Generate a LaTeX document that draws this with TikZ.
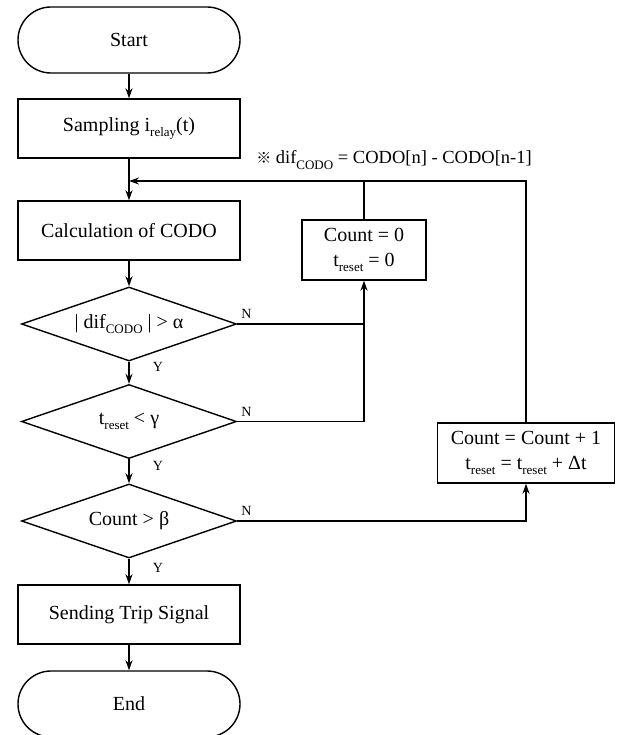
\documentclass[tikz,border=0pt]{standalone}
\usepackage{fontspec}
\setmainfont{Liberation Serif}
\newfontfamily\cjkfont{Noto Sans CJK JP}
\usetikzlibrary{shapes.geometric,arrows.meta}
\newcommand\lsub[1]{\raisebox{-0.28em}{\fontsize{13}{13}\selectfont #1}}
\tikzset{
  base/.style={draw, line width=1.4pt, inner sep=0pt, font=\fontsize{20}{25}\selectfont, align=center},
  procbox/.style={base, rectangle, minimum width=222pt, minimum height=59pt},
  termbox/.style={base, rectangle, rounded corners=33pt, minimum width=222pt, minimum height=66pt},
  decbox/.style={base, diamond, aspect=2.92, minimum width=215pt, minimum height=74pt},
  sidebox/.style={base, rectangle, minimum height=60pt},
  conn/.style={line width=1.4pt, -{Stealth[length=10pt,width=7pt]}},
  plain/.style={line width=1.4pt},
  yn/.style={font=\fontsize{14}{14}\selectfont, inner sep=0pt}
}
\begin{document}
\begin{tikzpicture}[x=1pt,y=-1pt]
\useasboundingbox (0,0) rectangle (619,735);
\node[termbox] (start) at (129,40) {Start};
\node[procbox] (samp) at (129,128.5) {Sampling i\lsub{relay}(t)};
\coordinate (j) at (129,181);
\node[procbox] (calc) at (129,230.5) {Calculation of CODO};
\node[decbox] (d1) at (129,324) {| dif\lsub{CODO} | > α};
\node[decbox] (d2) at (129,421.5) {t\lsub{reset} < γ};
\node[decbox] (d3) at (129,521) {Count > β};
\node[procbox] (send) at (129,614.5) {Sending Trip Signal};
\node[termbox] (end) at (129,704) {End};
\node[sidebox, minimum width=124pt] (cnt0) at (364,250) {Count = 0\\t\lsub{reset} = 0};
\node[sidebox, minimum width=177pt] (cnt1) at (526,453) {Count = Count + 1\\t\lsub{reset} = t\lsub{reset} + Δt};
\node[font=\fontsize{18.5}{18.5}\selectfont, inner sep=0pt] (note) at (394,160) {{\cjkfont\fontsize{15}{15}\selectfont ※} dif\lsub{CODO} = CODO[n] - CODO[n-1]};
% main flow
\draw[conn] (start) -- (samp);
\draw[plain] (samp.south) -- (j);
\draw[conn] (j) -- (calc.north);
\draw[conn] (calc) -- (d1);
\draw[conn] (d1) -- (d2);
\draw[conn] (d2) -- (d3);
\draw[conn] (d3) -- (send);
\draw[conn] (send) -- (end);
% feedback
\draw[conn] (cnt1.north) -- (cnt1.north |- j) -- (j);
\draw[plain] (cnt0.north) -- (cnt0.north |- j);
\draw[plain] (d1.east) -- (cnt0.south |- d1.east);
\draw[conn] (d2.east) -| (cnt0.south);
\draw[conn] (d3.east) -| (cnt1.south);
% labels
\node[yn, anchor=south west] (n1) at ([xshift=4pt,yshift=5pt]d1.east) {N};
\node[yn, anchor=south west] (n2) at ([xshift=4pt,yshift=5pt]d2.east) {N};
\node[yn, anchor=south west] (n3) at ([xshift=4pt,yshift=5pt]d3.east) {N};
\node[yn] (y1) at (158,367) {Y};
\node[yn] (y2) at (158,466) {Y};
\node[yn] (y3) at (158,568) {Y};
\end{tikzpicture}
\end{document}
